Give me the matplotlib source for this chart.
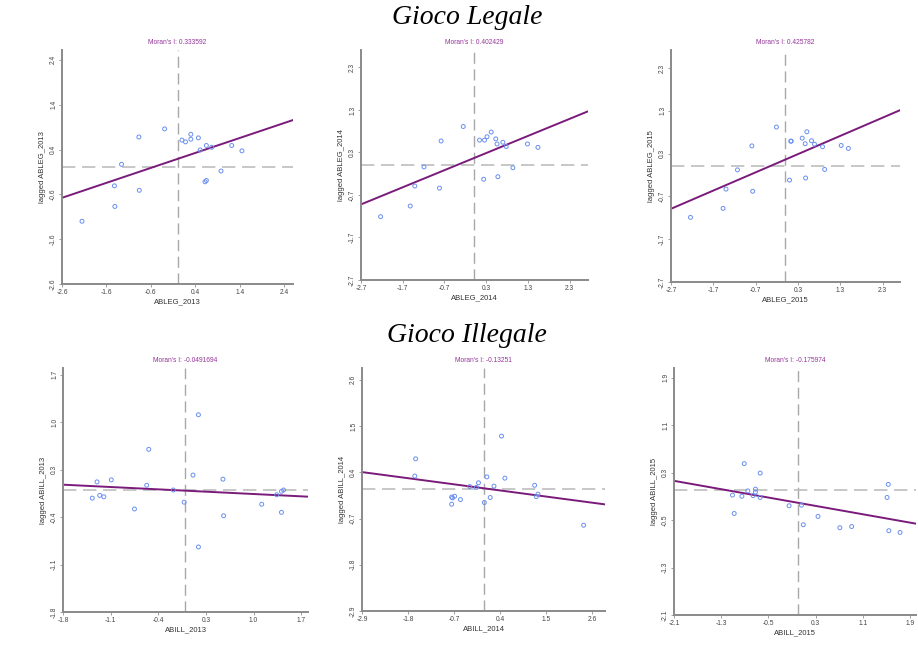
import numpy as np
import matplotlib
matplotlib.use("Agg")
import matplotlib.pyplot as plt

# Moran scatter plots, legal / illegal gambling, 2013-2015
# points (standardised x, lagged y)

leg13_x = [-2.15, -1.42, -1.41, -1.26, -0.87, -0.86, -0.29, 0.10, 0.18, 0.30,
           0.30, 0.47, 0.51, 0.65, 0.77, 0.62, 0.65, 0.98, 1.22, 1.45]
leg13_y = [-1.20, -0.41, -0.87, 0.07, 0.68, -0.51, 0.86, 0.61, 0.57, 0.74,
           0.63, 0.66, 0.39, 0.49, 0.45, -0.32, -0.29, -0.08, 0.49, 0.37]

leg14_x = [-2.23, -1.52, -1.41, -1.19, -0.82, -0.78, -0.25, 0.14, 0.26, 0.32,
           0.42, 0.53, 0.56, 0.70, 0.78, 0.24, 0.58, 0.94, 1.29, 1.54]
leg14_y = [-1.21, -0.96, -0.49, -0.04, -0.54, 0.57, 0.91, 0.59, 0.59, 0.67,
           0.78, 0.62, 0.50, 0.54, 0.44, -0.33, -0.27, -0.06, 0.50, 0.42]

leg15_x = [-2.24, -1.47, -1.40, -1.13, -0.79, -0.77, -0.21, 0.13, 0.14, 0.40,
           0.51, 0.47, 0.62, 0.69, 0.88, 0.10, 0.48, 0.93, 1.32, 1.49]
leg15_y = [-1.19, -0.98, -0.53, -0.08, 0.48, -0.58, 0.92, 0.59, 0.59, 0.66,
           0.81, 0.53, 0.60, 0.52, 0.46, -0.32, -0.27, -0.07, 0.49, 0.42]

ill13_x = [-1.37, -1.30, -1.26, -1.20, -1.09, -0.75, -0.57, -0.54, -0.18, -0.02,
           0.11, 0.19, 0.19, 0.55, 0.56, 1.12, 1.34, 1.41, 1.44, 1.41]
ill13_y = [-0.12, 0.12, -0.08, -0.10, 0.15, -0.28, 0.07, 0.60, 0.00, -0.18,
           0.22, 1.11, -0.84, 0.16, -0.38, -0.21, -0.07, -0.02, 0.00, -0.33]

ill14_x = [-1.62, -1.64, -0.76, -0.76, -0.74, -0.69, -0.55, -0.33, -0.17, -0.12,
           0.02, 0.08, 0.16, 0.25, 0.43, 0.51, 1.22, 1.26, 1.30, 2.39]
ill14_y = [0.72, 0.31, -0.19, -0.36, -0.21, -0.17, -0.25, 0.06, 0.04, 0.15,
           -0.32, 0.29, -0.20, 0.07, 1.26, 0.26, 0.09, -0.18, -0.12, -0.86]

ill15_x = [-1.11, -1.08, -0.95, -0.91, -0.85, -0.76, -0.72, -0.72, -0.64, -0.64,
           -0.15, 0.06, 0.09, 0.34, 0.71, 0.91, 1.53, 1.51, 1.54, 1.73]
ill15_y = [-0.08, -0.39, -0.10, 0.45, -0.01, -0.09, 0.02, -0.03, 0.29, -0.12,
           -0.26, -0.25, -0.58, -0.44, -0.63, -0.61, 0.10, -0.12, -0.68, -0.71]

morans_i = [0.333592, 0.402429, 0.425782, -0.0491694, -0.13251, -0.175974]
intercepts = [0.19, 0.165, 0.16, -0.01, 0.02, -0.21]
var_names = ['ABLEG_2013', 'ABLEG_2014', 'ABLEG_2015',
             'ABILL_2013', 'ABILL_2014', 'ABILL_2015']

# axis limits and ticks as GeoDa drew them
x_lims = [(-2.6, 2.6), (-2.7, 2.74), (-2.7, 2.71), (-1.8, 1.8), (-2.9, 2.9), (-2.1, 2.0)]
y_lims = [(-2.6, 2.62), (-2.7, 2.71), (-2.7, 2.72), (-1.8, 1.8), (-2.9, 2.88), (-2.1, 2.06)]
x_ticks = [[-2.6, -1.6, -0.6, 0.4, 1.4, 2.4], [-2.7, -1.7, -0.7, 0.3, 1.3, 2.3],
           [-2.7, -1.7, -0.7, 0.3, 1.3, 2.3], [-1.8, -1.1, -0.4, 0.3, 1.0, 1.7],
           [-2.9, -1.8, -0.7, 0.4, 1.5, 2.6], [-2.1, -1.3, -0.5, 0.3, 1.1, 1.9]]
y_ticks = [[-2.6, -1.6, -0.6, 0.4, 1.4, 2.4], [-2.7, -1.7, -0.7, 0.3, 1.3, 2.3],
           [-2.7, -1.7, -0.7, 0.3, 1.3, 2.3], [-1.8, -1.1, -0.4, 0.3, 1.0, 1.7],
           [-2.9, -1.8, -0.7, 0.4, 1.5, 2.6], [-2.1, -1.3, -0.5, 0.3, 1.1, 1.9]]

xs = [leg13_x, leg14_x, leg15_x, ill13_x, ill14_x, ill15_x]
ys = [leg13_y, leg14_y, leg15_y, ill13_y, ill14_y, ill15_y]

W, H = 918, 646
# panel boxes in pixels: left, right, top, bottom
boxes = [(62, 293, 50, 284), (361, 588, 50, 280), (671, 900, 50, 282),
         (63, 308, 368, 612), (362, 605, 368, 611), (674, 916, 368, 615)]

plt.rcParams['font.family'] = ['Liberation Sans', 'DejaVu Sans']
fig = plt.figure(figsize=(W / 100, H / 100), dpi=100)
fig.patch.set_facecolor('white')

fig.text(467 / W, 1 - 18 / H, 'Gioco Legale', ha='center', va='center',
         family='Liberation Serif', style='italic', fontsize=20)
fig.text(467 / W, 1 - 335 / H, 'Gioco Illegale', ha='center', va='center',
         family='Liberation Serif', style='italic', fontsize=20)

for k in range(6):
    l, r, t, b = boxes[k]
    ax = fig.add_axes([l / W, 1 - b / H, (r - l) / W, (b - t) / H])
    x = np.array(xs[k])
    y = np.array(ys[k])
    ax.set_xlim(*x_lims[k])
    ax.set_ylim(*y_lims[k])

    ax.axvline(0, color='#a8a8a8', lw=1.0, dashes=(8, 4), zorder=1)
    ax.axhline(0, color='#bdbdbd', lw=1.2, dashes=(8, 4), zorder=1)

    xl = np.array(x_lims[k])
    ax.plot(xl, intercepts[k] + morans_i[k] * xl, color='#7a1a7a', lw=1.4, zorder=2)
    ax.scatter(x, y, s=8, facecolors='none', edgecolors='#6a8ff0', linewidths=0.7, zorder=3)

    ax.set_xticks(x_ticks[k])
    ax.set_yticks(y_ticks[k])
    ax.set_xticklabels([f'{v:.1f}' for v in x_ticks[k]])
    ax.set_yticklabels([f'{v:.1f}' for v in y_ticks[k]], rotation=90, va='center')
    ax.tick_params(labelsize=4.8, length=2, width=0.6, color='#909090', pad=1.5,
                   labelcolor='#444444')
    for side in ['top', 'right']:
        ax.spines[side].set_visible(False)
    for side in ['left', 'bottom']:
        ax.spines[side].set_color('#8a8a8a')
        ax.spines[side].set_linewidth(1.4)

    ax.set_xlabel(var_names[k], fontsize=5.5, color='#333333', labelpad=2)
    ax.set_ylabel('lagged ' + var_names[k], fontsize=5.5, color='#333333', labelpad=3)
    ax.set_title("Moran's I: " + str(morans_i[k]), fontsize=4.8, color='#94359a', pad=4)

fig.savefig('out.png', dpi=100)
